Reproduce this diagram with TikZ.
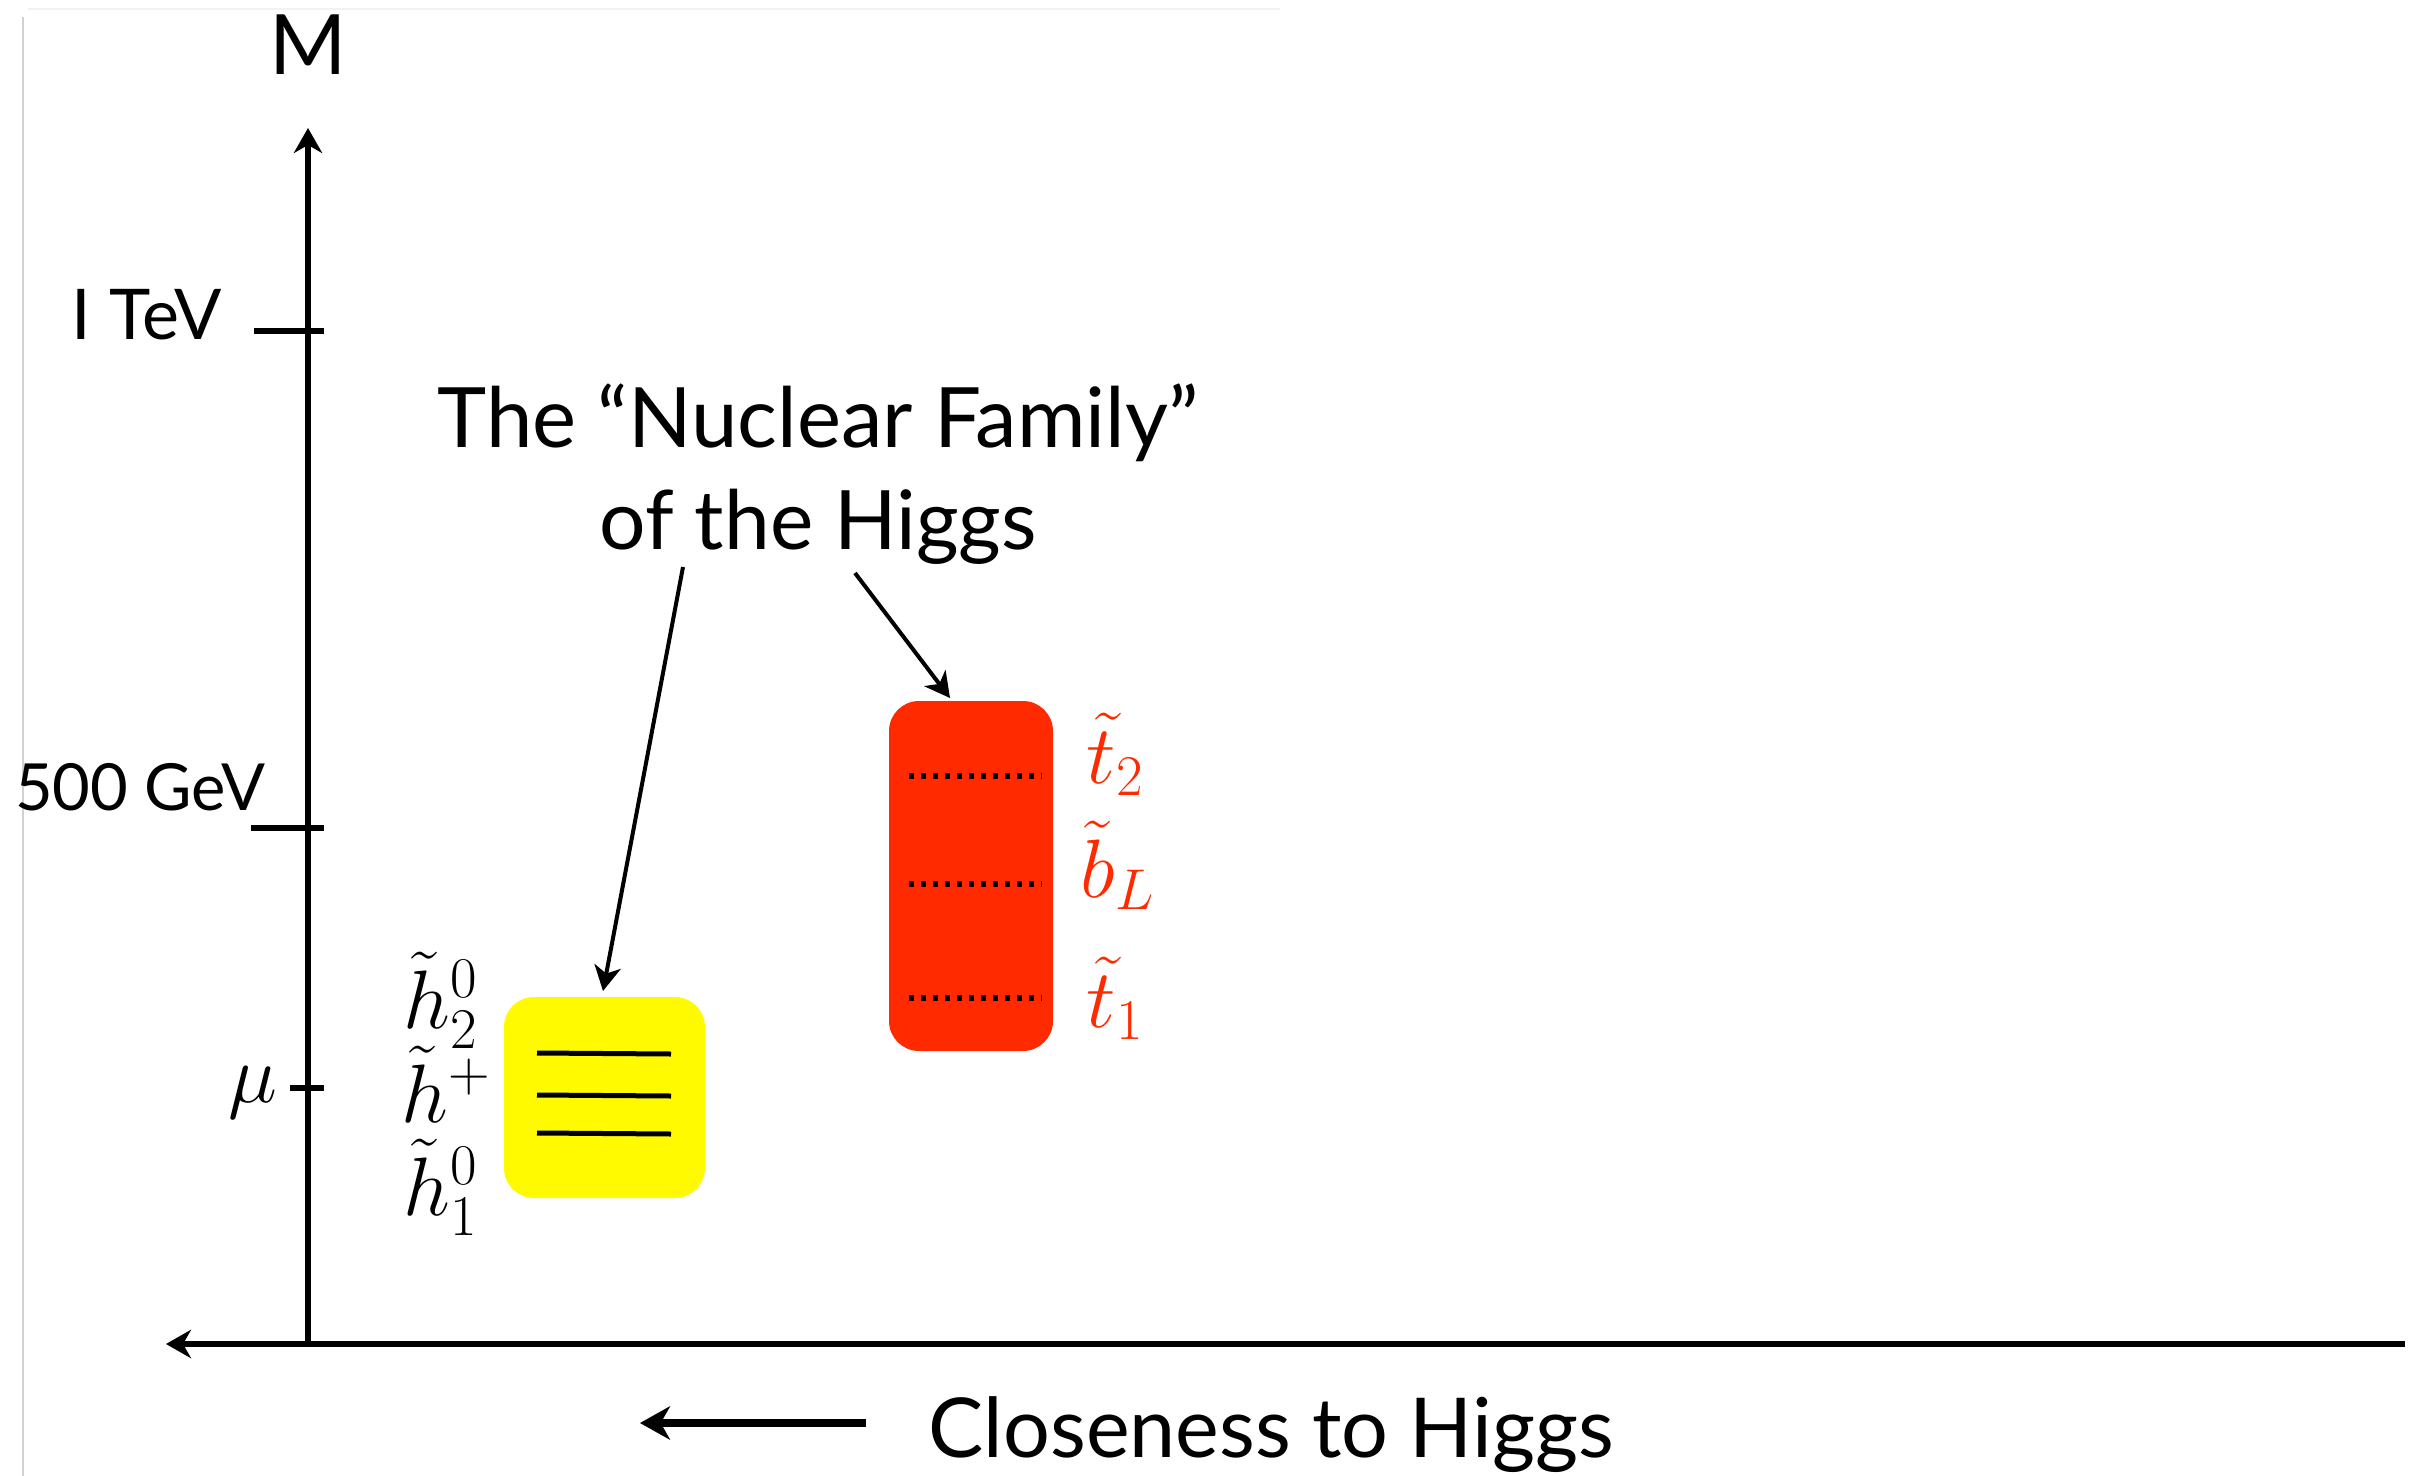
\documentclass[tikz,border=0pt]{standalone}
\usepackage[no-math]{fontspec}
\setmainfont{Lato}
\usetikzlibrary{arrows.meta}
\definecolor{hyellow}{RGB}{255,250,0}
\definecolor{sred}{RGB}{255,42,0}
\tikzset{
  axisline/.style={line width=1.6pt},
  axisarrow/.style={line width=1.6pt,-{Stealth[length=7.5pt,width=8.5pt,inset=2.4pt]}},
  ptr/.style={line width=1.2pt,-{Stealth[length=7.5pt,width=8pt,inset=2.2pt]}},
  bigptr/.style={line width=2.4pt,-{Stealth[length=9pt,width=10pt,inset=2.8pt]}},
  lbl/.style={inner sep=0pt},
  levelbox/.style={inner sep=0pt, rounded corners=9pt},
  solidlevel/.style={line width=1.5pt},
  dotlevel/.style={line width=1.6pt, dash pattern=on 1.5pt off 2.1pt},
}
\begin{document}
\begin{tikzpicture}[x=0.3pt,y=-0.3pt]
\useasboundingbox (0,0) rectangle (2417,1476);
% faint frame lines
\draw[line width=0.6pt, draw=black!18] (23,17) -- (23,1476);
\draw[line width=0.6pt, draw=black!5] (28,9) -- (1280,9);
% axes
\coordinate (O) at (308,1344);
\coordinate (ytop) at (308,128);
\coordinate (xleft) at (166,1344);
\coordinate (xright) at (2405,1344);
\draw[axisarrow] (O) -- (ytop);
\draw[axisarrow] (xright) -- (xleft);
% ticks
\draw[axisline] (254,331) -- (324,331);
\draw[axisline] (251,828) -- (324,828);
\draw[axisline] (290,1088) -- (324,1088);
% axis labels
\node[lbl, anchor=base, font=\fontsize{25}{30}\selectfont] (M) at (308,74) {M};
\node[lbl, anchor=base east, font=\fontsize{21}{25}\selectfont] (tev) at (222,339) {I TeV};
\node[lbl, anchor=base east, font=\fontsize{19.5}{24}\selectfont] (gev) at (266,810) {500 GeV};
\node[lbl, anchor=base east, font=\fontsize{31}{35}\selectfont] (mu) at (278,1102) {$\mu$};
% title
\node[lbl, anchor=base, font=\fontsize{25}{30}\selectfont] (t1) at (818,447) {The “Nuclear Family”};
\node[lbl, anchor=base, font=\fontsize{24.6}{30}\selectfont] (t2) at (818,549) {of the Higgs};
% boxes
\node[levelbox, fill=hyellow, minimum width=60.3pt, minimum height=60.3pt] (yb) at (604.5,1097.5) {};
\node[levelbox, fill=sred, minimum width=49.2pt, minimum height=105pt] (rb) at (971,876) {};
% levels
\draw[solidlevel] (537,1053) -- (671,1054);
\draw[solidlevel] (537,1095) -- (671,1096);
\draw[solidlevel] (537,1133) -- (671,1134);
\draw[dotlevel] (909,776) -- (1042,776);
\draw[dotlevel] (909,884) -- (1042,884);
\draw[dotlevel] (909,998) -- (1042,998);
% higgsino labels
\node[lbl, anchor=base west, font=\fontsize{23}{27}\selectfont] (h20) at (403,1028) {$\tilde{h}_2^0$};
\node[lbl, anchor=base west, font=\fontsize{23}{27}\selectfont] (hp) at (401,1122) {$\tilde{h}^+$};
\node[lbl, anchor=base west, font=\fontsize{23}{27}\selectfont] (h10) at (403,1215) {$\tilde{h}_1^0$};
% stop/sbottom labels
\node[lbl, anchor=base west, text=sred, font=\fontsize{25}{29}\selectfont] (st2) at (1086,783) {$\tilde{t}_2$};
\node[lbl, anchor=base west, text=sred, font=\fontsize{25}{29}\selectfont] (sbL) at (1080,897) {$\tilde{b}_L$};
\node[lbl, anchor=base west, text=sred, font=\fontsize{25}{29}\selectfont] (st1) at (1086,1027) {$\tilde{t}_1$};
% pointers
\coordinate (pl) at (683,567);
\coordinate (pr) at (855,573);
\draw[ptr] (pl) -- (603,991) coordinate (ytip);
\draw[ptr] (pr) -- (950,698) coordinate (rtip);
% bottom label
\coordinate (bt) at (866,1423);
\coordinate (bh) at (640,1423);
\draw[bigptr] (bt) -- (bh);
\node[lbl, anchor=base west, font=\fontsize{24.8}{30}\selectfont] (close) at (928,1457) {Closeness to Higgs};
\end{tikzpicture}
\end{document}
